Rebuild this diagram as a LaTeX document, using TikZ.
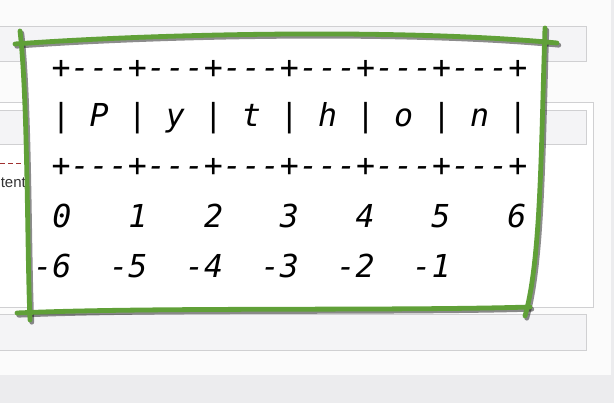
\documentclass[tikz,border=0pt]{standalone}
\usepackage{fontspec}
\setmonofont{DejaVu Sans Mono}
\setsansfont{Liberation Sans}
\definecolor{pagebg}{HTML}{FBFBFB}
\definecolor{panelfill}{HTML}{F4F4F6}
\definecolor{panelline}{HTML}{D0D0D2}
\definecolor{stripgray}{HTML}{ECECEE}
\definecolor{sketchgreen}{HTML}{60A038}
\definecolor{dashred}{HTML}{A03030}
\begin{document}
\begin{tikzpicture}[x=1pt,y=-1pt,
  panel/.style={draw=panelline, fill=panelfill, line width=0.8pt},
  openpanel/.style={draw=panelline, fill=white, line width=0.8pt},
  stroke/.style={draw=sketchgreen, line width=4.8pt, line cap=round, line join=round},
  shade/.style={draw=black, opacity=0.45, line width=4.8pt, line cap=round},
  code/.style={inner sep=0pt, anchor=base west, text=black,
    font=\ttfamily\itshape\fontsize{31.6}{50}\selectfont},
  num/.style={inner sep=0pt, anchor=base, text=black,
    font=\ttfamily\itshape\fontsize{31.6}{50}\selectfont}]
\useasboundingbox (0,0) rectangle (614,403);
% background
\fill[pagebg] (0,0) rectangle (614,403);
\fill[stripgray] (0,375) rectangle (614,403);
\fill[stripgray] (611,0) rectangle (614,403);
% panels behind
\path[panel] (-5,26.5) rectangle (586.5,61.5);
\path[openpanel] (-5,102) rectangle (593,307);
\path[panel] (-5,110) rectangle (586.5,144.5);
\path[panel] (-5,314) rectangle (586.5,350);
\draw[dashred, dash pattern=on 5pt off 3pt, line width=0.7pt] (0,163) -- (30,163);
\node[anchor=base east, inner sep=0pt, text=black!80, font=\sffamily\fontsize{15}{17}\selectfont] (cut) at (26,188) {tent};
% white sheet
\fill[white] (22,43) .. controls (150,34) and (400,30) .. (545,40)
  .. controls (541,150) and (541,260) .. (527,310)
  .. controls (400,310) and (150,308) .. (29,312)
  .. controls (27,250) and (28,100) .. (22,43) -- cycle;
% shadows of strokes
\begin{scope}[shift={(1.8,2.2)}]
\draw[shade] (15,44) .. controls (150,34) and (400,28) .. (557,43);
\draw[shade] (20,31) .. controls (28,100) and (27,250) .. (30,320);
\draw[shade] (17,313) .. controls (150,307) and (400,311) .. (530,307);
\draw[shade] (545,28) .. controls (541,150) and (541,260) .. (525,316);
\end{scope}
% green strokes
\draw[stroke] (15,44) .. controls (150,34) and (400,28) .. (557,43);
\draw[stroke] (20,31) .. controls (28,100) and (27,250) .. (30,320);
\draw[stroke] (17,313) .. controls (150,307) and (400,311) .. (530,307);
\draw[stroke] (545,28) .. controls (541,150) and (541,260) .. (525,316);
% text
\node[code] (r1) at (51.5,79) {+---+---+---+---+---+---+};
\node[code] (r2) at (51.5,127) {| P | y | t | h | o | n |};
\node[code] (r3) at (51.5,177) {+---+---+---+---+---+---+};
\foreach \d [count=\i from 0] in {0,1,2,3,4,5,6}
  \node[num] (p\i) at (62+75.8*\i,228) {\d};
\foreach \d [count=\i from 0] in {-6,-5,-4,-3,-2,-1}
  \node[num] (n\i) at (52.5+75.8*\i,278) {\d};
\end{tikzpicture}
\end{document}
